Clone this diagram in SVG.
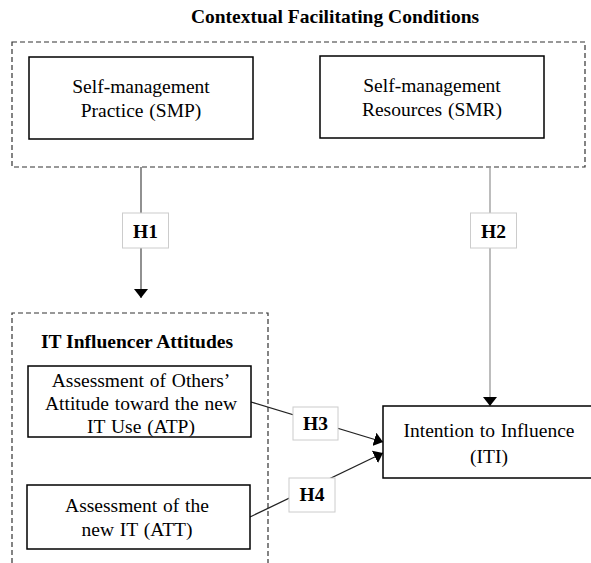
<svg xmlns="http://www.w3.org/2000/svg" width="591" height="563" viewBox="0 0 591 563">
<style>
text{font-family:"Liberation Serif","Times New Roman",serif;fill:#000;text-anchor:middle}
.t{font-size:19.5px;word-spacing:1px}
.b{font-size:19.5px;font-weight:bold}
.box{fill:#fff;stroke:#000;stroke-width:1.5}
.dash{fill:none;stroke:#333;stroke-width:1.2;stroke-dasharray:5,3}
.lbl{fill:#fff;stroke:#ccc;stroke-width:1}
.ln{stroke:#555;stroke-width:1.3;fill:none}
.ln2{stroke:#999;stroke-width:1.3;fill:none}
.ln3{stroke:#222;stroke-width:1.3;fill:none}
</style>
<defs>
<marker id="ah" viewBox="0 0 9 14" refX="9" refY="7" markerWidth="9" markerHeight="14" markerUnits="userSpaceOnUse" orient="auto">
<path d="M0,0 L9,7 L0,14 z" fill="#000"/>
</marker>
</defs>
<rect fill="#fff" width="591" height="563"/>
<g id="group-context">
<text class="b" x="335" y="23">Contextual Facilitating Conditions</text>
<rect class="dash" x="12" y="42" width="573" height="125"/>
</g>
<g id="group-attitudes">
<path class="dash" d="M12,563 V313 H268 V563"/>
<text class="b" x="137" y="348">IT Influencer Attitudes</text>
</g>
<g id="connectors">
<line class="ln" x1="141" y1="167" x2="141" y2="298" marker-end="url(#ah)"/>
<line class="ln2" x1="490" y1="167" x2="490" y2="406" marker-end="url(#ah)"/>
<line class="ln3" x1="251" y1="402" x2="383" y2="442" marker-end="url(#ah)"/>
<line class="ln3" x1="250" y1="517" x2="383" y2="453" marker-end="url(#ah)"/>
<rect class="lbl" x="122.5" y="213" width="46" height="35"/>
<text class="b" x="145.5" y="238">H1</text>
<rect class="lbl" x="470.5" y="213" width="46" height="35"/>
<text class="b" x="493.5" y="238">H2</text>
<rect class="lbl" x="293" y="407" width="45" height="33"/>
<text class="b" x="315.5" y="430">H3</text>
<rect class="lbl" x="289" y="478" width="46" height="34"/>
<text class="b" x="312" y="501">H4</text>
</g>
<g id="smp">
<rect class="box" x="29" y="57" width="224" height="82"/>
<text class="t" x="141" y="93">Self-management</text>
<text class="t" x="141" y="117">Practice (SMP)</text>
</g>
<g id="smr">
<rect class="box" x="320" y="56" width="224" height="82"/>
<text class="t" x="432" y="92">Self-management</text>
<text class="t" x="432" y="116">Resources (SMR)</text>
</g>
<g id="atp">
<rect class="box" x="28" y="366" width="223" height="71"/>
<text class="t" x="141" y="387">Assessment of Others’</text>
<text class="t" x="141" y="410">Attitude toward the new</text>
<text class="t" x="141" y="433">IT Use (ATP)</text>
</g>
<g id="att">
<rect class="box" x="27" y="485" width="223" height="64"/>
<text class="t" x="137" y="512">Assessment of the</text>
<text class="t" x="137" y="536">new IT (ATT)</text>
</g>
<g id="iti">
<rect class="box" x="383" y="406" width="210" height="72"/>
<text class="t" x="489" y="437">Intention to Influence</text>
<text class="t" x="489" y="463">(ITI)</text>
</g>
</svg>
